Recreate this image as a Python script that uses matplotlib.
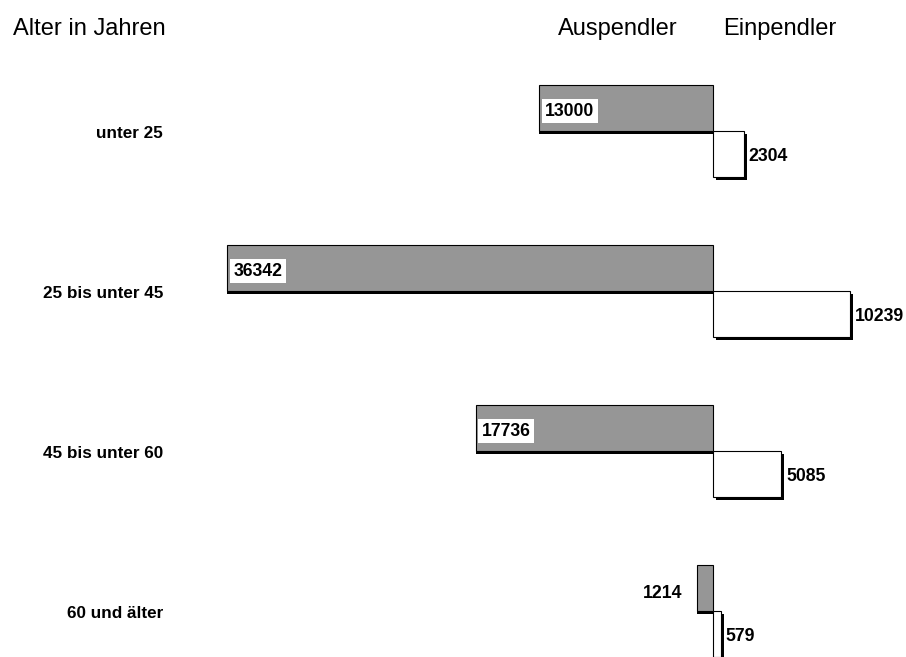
import matplotlib.pyplot as plt
import matplotlib.transforms as mtransforms
import numpy as np

plt.rcParams['font.family'] = ['Liberation Sans', 'DejaVu Sans']

groups = ['unter 25', '25 bis unter 45', '45 bis unter 60', '60 und älter']
auspendler = [13000, 36342, 17736, 1214]
einpendler = [2304, 10239, 5085, 579]

fig = plt.figure(figsize=(9.06, 6.57), dpi=100)
ax = fig.add_axes([0, 0, 1, 1])
ax.set_xlim(-53330, 14435)
ax.set_ylim(3.2875, -0.819)
ax.axis('off')

y = np.arange(len(groups))
h = 0.2875
grey = '#969696'

# shadows: 3 px right / down
sh = mtransforms.offset_copy(ax.transData, fig=fig, x=3, y=-3, units='dots')
sh_down = mtransforms.offset_copy(ax.transData, fig=fig, x=0, y=-3, units='dots')
ax.barh(y - h / 2, -np.array(auspendler), height=h, color='black',
        transform=sh_down, zorder=1)
ax.barh(y + h / 2, einpendler, height=h, color='black', transform=sh, zorder=1)

ax.barh(y - h / 2, -np.array(auspendler), height=h, color=grey,
        edgecolor='black', linewidth=0.8, zorder=2)
ax.barh(y + h / 2, einpendler, height=h, color='white',
        edgecolor='black', linewidth=0.8, zorder=3)

fs_val = 12.7
for i, (a, e) in enumerate(zip(auspendler, einpendler)):
    if a > 5000:
        ax.annotate(str(a), (-a, i - h / 2), xytext=(6, -3), textcoords='offset pixels',
                    ha='left', va='center', fontsize=fs_val, fontweight='bold', zorder=5,
                    bbox=dict(boxstyle='square,pad=0.2', fc='white', ec='none'))
    else:
        ax.annotate(str(a), (-a, i - h / 2), xytext=(-14, -5), textcoords='offset pixels',
                    ha='right', va='center', fontsize=fs_val, fontweight='bold', zorder=5)
    ax.annotate(str(e), (e, i + h / 2), xytext=(5, -2), textcoords='offset pixels',
                ha='left', va='center', fontsize=fs_val, fontweight='bold', zorder=5)

for i, g in enumerate(groups):
    ax.text(163, 657 - (138 + 160 * i), g, transform=None, ha='right', va='baseline',
            fontsize=12.3, fontweight='bold')

ax.text(13, 622, 'Alter in Jahren', transform=None, ha='left', va='baseline', fontsize=17)
ax.text(618, 622, 'Auspendler', transform=None, ha='center', va='baseline', fontsize=17)
ax.text(780, 622, 'Einpendler', transform=None, ha='center', va='baseline', fontsize=17)

fig.savefig('out.png', dpi=100)
